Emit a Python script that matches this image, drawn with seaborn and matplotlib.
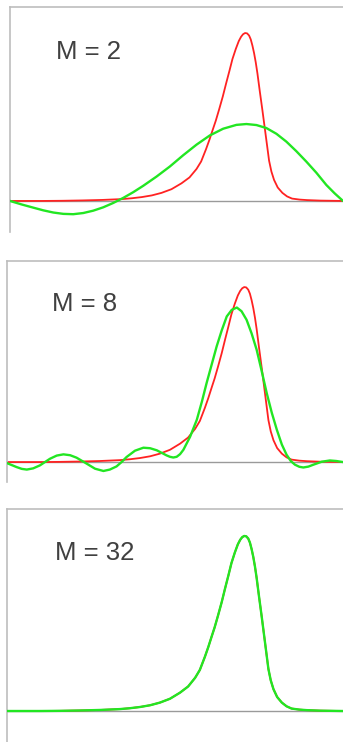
import matplotlib

matplotlib.use("Agg")

import matplotlib.pyplot as plt
import seaborn as sns

# target peak (red), x as fraction of panel width, y relative to peak height
target_x = [0.0, 0.098, 0.158, 0.217, 0.277, 0.336, 0.366, 0.396, 0.426, 0.455,
            0.485, 0.515, 0.539, 0.560, 0.574, 0.589, 0.599, 0.609, 0.618, 0.628,
            0.639, 0.649, 0.659, 0.668, 0.678, 0.687, 0.694, 0.700, 0.706, 0.712,
            0.718, 0.723, 0.728, 0.733, 0.738, 0.743, 0.750, 0.758, 0.763, 0.768,
            0.773, 0.778, 0.785, 0.793, 0.804, 0.818, 0.832, 0.847, 0.870, 0.892,
            0.932, 1.0]
target_y = [0.0, 0.0, 0.001, 0.003, 0.006, 0.011, 0.016, 0.023, 0.033, 0.048,
            0.070, 0.105, 0.140, 0.190, 0.235, 0.310, 0.365, 0.425, 0.478, 0.545,
            0.622, 0.700, 0.775, 0.845, 0.905, 0.952, 0.978, 0.993, 1.0, 0.998,
            0.985, 0.962, 0.925, 0.880, 0.825, 0.760, 0.655, 0.540, 0.465, 0.390,
            0.315, 0.240, 0.175, 0.125, 0.080, 0.048, 0.027, 0.014, 0.008, 0.005,
            0.002, 0.0]

# approximation with M = 2 terms (green, top panel)
m2_x = [0.0, 0.035, 0.07, 0.10, 0.13, 0.16, 0.19, 0.22, 0.25, 0.28,
        0.31, 0.34, 0.37, 0.40, 0.44, 0.48, 0.52, 0.56, 0.60, 0.64,
        0.68, 0.71, 0.74, 0.77, 0.80, 0.83, 0.86, 0.89, 0.92, 0.95,
        0.975, 1.0]
m2_y = [0.0, -0.021, -0.040, -0.056, -0.069, -0.077, -0.079, -0.072, -0.058, -0.038,
        -0.012, 0.018, 0.052, 0.090, 0.145, 0.205, 0.272, 0.335, 0.390, 0.430,
        0.453, 0.458, 0.452, 0.434, 0.400, 0.353, 0.296, 0.234, 0.168, 0.095,
        0.045, 0.0]

# approximation with M = 8 terms (green, middle panel)
m8_x = [0.0, 0.015, 0.029, 0.044, 0.059, 0.078, 0.098, 0.113, 0.128, 0.148,
        0.168, 0.188, 0.207, 0.222, 0.237, 0.262, 0.287, 0.306, 0.326, 0.341,
        0.356, 0.381, 0.406, 0.426, 0.446, 0.461, 0.475, 0.485, 0.495, 0.505,
        0.515, 0.525, 0.545, 0.565, 0.580, 0.594, 0.609, 0.624, 0.639, 0.654,
        0.669, 0.684, 0.698, 0.713, 0.728, 0.743, 0.758, 0.773, 0.788, 0.803,
        0.818, 0.832, 0.845, 0.857, 0.870, 0.882, 0.897, 0.912, 0.937, 0.961,
        0.980, 1.0]
m8_y = [-0.006, -0.018, -0.029, -0.039, -0.043, -0.036, -0.019, 0.0, 0.019, 0.037,
        0.044, 0.039, 0.025, 0.008, -0.009, -0.038, -0.051, -0.043, -0.025, 0.0,
        0.029, 0.065, 0.082, 0.079, 0.067, 0.052, 0.038, 0.030, 0.026, 0.030,
        0.045, 0.070, 0.145, 0.242, 0.345, 0.451, 0.556, 0.661, 0.752, 0.832,
        0.870, 0.883, 0.862, 0.813, 0.735, 0.642, 0.520, 0.394, 0.282, 0.185,
        0.100, 0.042, 0.005, -0.015, -0.027, -0.031, -0.026, -0.015, 0.002, 0.009,
        0.006, 0.0]

# with M = 32 the approximation sits on top of the target
m32_x = target_x
m32_y = target_y

labels = ["M = 2", "M = 8", "M = 32"]

RED = "#ff2222"
GREEN = "#22e622"
SPINE = "#bdbdbd"
BASE = "#9a9a9a"

W, H = 343, 742

# panel rectangles in pixels: left, top, right, bottom
panels = [(10, 7, 343, 232), (7, 261, 343, 482), (7, 509, 343, 742)]
ylims = [(-0.185, 1.155), (-0.114, 1.149), (-0.177, 1.154)]
label_pos = [(0.138, 0.771), (0.133, 0.775), (0.143, 0.781)]
approx = [(m2_x, m2_y), (m8_x, m8_y), (m32_x, m32_y)]

sns.set_style("white")
plt.rcParams["font.family"] = ["Liberation Sans", "DejaVu Sans"]

fig = plt.figure(figsize=(W / 100, H / 100), dpi=100)

for (l, t, r, b), ylim, lab, pos, (ax_x, ax_y) in zip(panels, ylims, labels, label_pos, approx):
    ax = fig.add_axes([l / W, 1 - b / H, (r - l) / W, (b - t) / H])
    ax.axhline(0, color=BASE, linewidth=1.0, zorder=1)
    sns.lineplot(x=target_x, y=target_y, ax=ax, color=RED, linewidth=1.3, zorder=2)
    sns.lineplot(x=ax_x, y=ax_y, ax=ax, color=GREEN, linewidth=1.7, zorder=3)
    ax.set_xlim(0, 1)
    ax.set_ylim(*ylim)
    ax.set_xticks([])
    ax.set_yticks([])
    ax.set_xlabel("")
    ax.set_ylabel("")
    for side in ("right", "bottom"):
        ax.spines[side].set_visible(False)
    for side in ("left", "top"):
        ax.spines[side].set_color(SPINE)
        ax.spines[side].set_linewidth(1.2)
    ax.text(pos[0], pos[1], lab, transform=ax.transAxes, ha="left", va="baseline",
            fontsize=18.5, color="#404040")

fig.savefig("out.png", dpi=100)
